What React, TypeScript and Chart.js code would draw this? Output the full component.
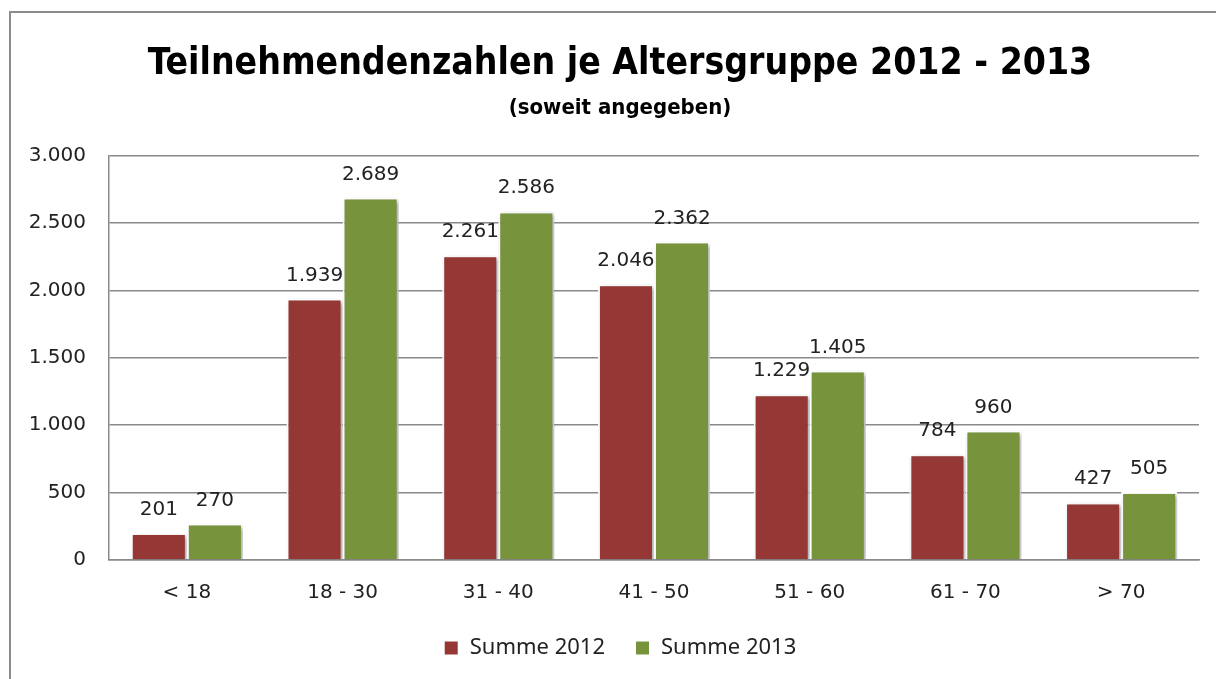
import React, { useEffect, useRef } from "react";
import { Chart, registerables } from "chart.js";

Chart.register(...registerables);

const categories = ["< 18", "18 - 30", "31 - 40", "41 - 50", "51 - 60", "61 - 70", "> 70"];
const series2012 = [201, 1939, 2261, 2046, 1229, 784, 427];
const series2013 = [270, 2689, 2586, 2362, 1405, 960, 505];
const seriesNames = ["Summe 2012", "Summe 2013"];
const yTicks = [0, 500, 1000, 1500, 2000, 2500, 3000];

const RED = "#953735";
const GREEN = "#77933C";

const fmt = (v: number) => String(Math.round(v)).replace(/\B(?=(\d{3})+(?!\d))/g, ".");

const framePlugin = {
  id: "frame",
  beforeDraw(chart: any) {
    const { ctx } = chart;
    ctx.save();
    ctx.strokeStyle = "#8c8c8c";
    ctx.lineWidth = 2;
    ctx.beginPath();
    ctx.moveTo(10, chart.height);
    ctx.lineTo(10, 12);
    ctx.lineTo(chart.width, 12);
    ctx.stroke();
    ctx.restore();
  },
};

const barExtras = {
  id: "barExtras",
  beforeDatasetsDraw(chart: any) {
    const { ctx } = chart;
    ctx.save();
    ctx.shadowColor = "rgba(0,0,0,0.35)";
    ctx.shadowBlur = 4;
    ctx.shadowOffsetX = 2;
    ctx.shadowOffsetY = 2;
  },
  afterDatasetsDraw(chart: any) {
    const { ctx } = chart;
    ctx.restore();
    ctx.save();
    ctx.font = '20px "DejaVu Sans", sans-serif';
    ctx.fillStyle = "#222";
    ctx.textAlign = "center";
    ctx.textBaseline = "alphabetic";
    chart.data.datasets.forEach((ds: any, i: number) => {
      const meta = chart.getDatasetMeta(i);
      meta.data.forEach((el: any, j: number) => {
        ctx.fillText(fmt(ds.data[j]), el.x, el.y - 18);
      });
    });
    ctx.restore();
  },
};

export default function App() {
  const ref = useRef<HTMLCanvasElement>(null);
  useEffect(() => {
    if (!ref.current) return;
    const chart = new Chart(ref.current, {
      type: "bar",
      data: {
        labels: categories,
        datasets: [
          { label: seriesNames[0], data: series2012, backgroundColor: RED, borderColor: "#ffffff", borderWidth: 2 },
          { label: seriesNames[1], data: series2013, backgroundColor: GREEN, borderColor: "#ffffff", borderWidth: 2 },
        ],
      },
      plugins: [framePlugin, barExtras],
      options: {
        animation: false,
        responsive: true,
        maintainAspectRatio: false,
        layout: { padding: { left: 10, right: 16, top: 0, bottom: 10 } },
        datasets: { bar: { categoryPercentage: 0.72, barPercentage: 1.0 } },
        plugins: {
          title: {
            display: true,
            text: "Teilnehmendenzahlen je Altersgruppe 2012 - 2013",
            color: "#000",
            font: { family: '"DejaVu Sans Condensed", "Liberation Sans", sans-serif', size: 37, weight: "bold", lineHeight: 1.2 },
            padding: { top: 42, bottom: 0 },
          },
          subtitle: {
            display: true,
            text: "(soweit angegeben)",
            color: "#000",
            font: { family: '"DejaVu Sans Condensed", "Liberation Sans", sans-serif', size: 22, weight: "bold", lineHeight: 1.1 },
            padding: { top: 10, bottom: 35 },
          },
          legend: {
            position: "bottom",
            labels: {
              color: "#222",
              font: { family: '"Noto Sans", sans-serif', size: 22 },
              boxWidth: 15,
              boxHeight: 15,
              padding: 30,
            },
          },
          tooltip: { enabled: false },
        },
        scales: {
          x: {
            grid: { display: false, drawTicks: false },
            border: { display: true, color: "#8a8a8a", width: 1.5 },
            ticks: { color: "#222", font: { family: '"DejaVu Sans", sans-serif', size: 20 }, padding: 21 },
            afterFit: (s: any) => { s.height = 47; },
          },
          y: {
            min: 0,
            max: 3000,
            afterBuildTicks: (s: any) => { s.ticks = yTicks.map((v) => ({ value: v })); },
            grid: { color: "#8a8a8a", lineWidth: 1.5, drawTicks: false },
            border: { display: true, color: "#8a8a8a", width: 1.5 },
            ticks: { color: "#222", font: { family: '"DejaVu Sans", sans-serif', size: 20 }, padding: 23, callback: (v: any) => fmt(Number(v)) },
            afterFit: (s: any) => { s.width = 99; },
          },
          y2: {
            position: "right",
            display: true,
            grid: { display: false, drawOnChartArea: false, drawTicks: false },
            border: { display: false },
            ticks: { display: false },
            afterFit: (s: any) => { s.width = 31; },
          },
        },
      } as any,
    });
    return () => chart.destroy();
  }, []);
  return (
    <div style={{ position: "fixed", left: 0, top: 0, width: 1216, height: 679, overflow: "hidden", background: "#fff" }}>
      <div style={{ position: "relative", width: 1246, height: 679 }}>
        <canvas ref={ref} />
      </div>
    </div>
  );
}
